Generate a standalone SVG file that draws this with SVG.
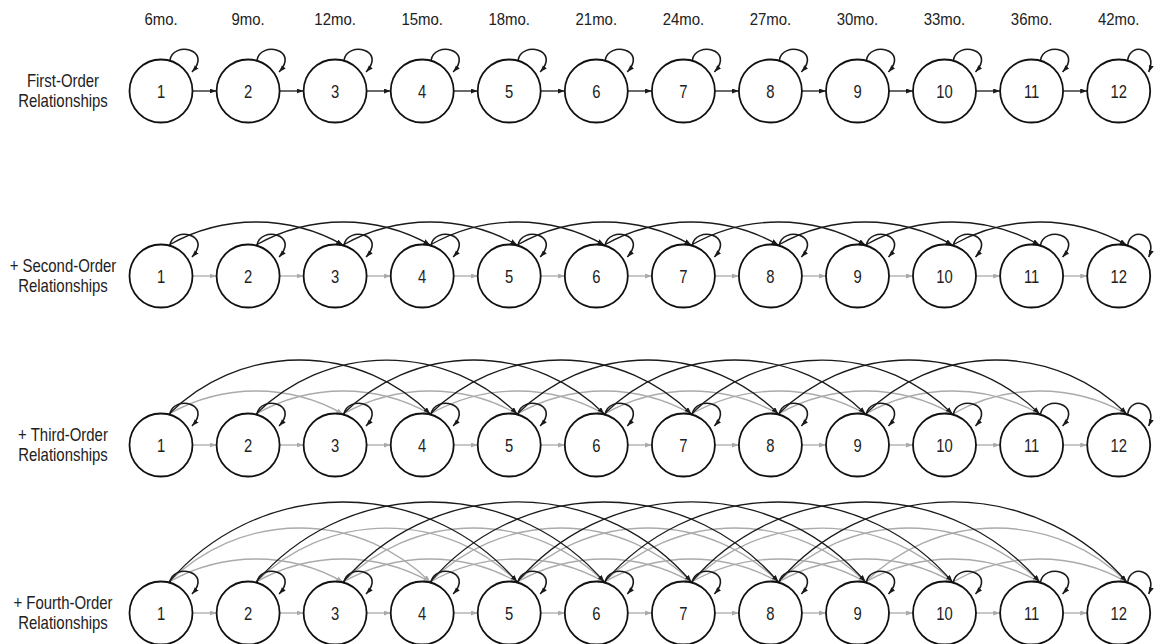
<svg xmlns="http://www.w3.org/2000/svg" width="1155" height="644" viewBox="0 0 1155 644">
<style>
.t{font-family:"Liberation Sans",Arial,sans-serif;font-size:18px;fill:#222;text-anchor:middle}
.m{font-size:17px}
.d{font-size:18.5px}
.n circle{fill:#fff;stroke:#111;stroke-width:1.8}
.k{fill:none;stroke:#1a1a1a;stroke-width:1.3;marker-end:url(#ak)}
.g{fill:none;stroke:#aaa;stroke-width:1.3;marker-end:url(#ag)}
.l{fill:none;stroke:#1a1a1a;stroke-width:1.6;marker-end:url(#ak)}
</style>
<defs>
<marker id="ak" markerUnits="userSpaceOnUse" markerWidth="8" markerHeight="6" refX="7" refY="2.5" orient="auto"><path d="M0,0 L7,2.5 L0,5 z" fill="#1a1a1a"/></marker>
<marker id="ag" markerUnits="userSpaceOnUse" markerWidth="8" markerHeight="6" refX="7" refY="2.5" orient="auto"><path d="M0,0 L7,2.5 L0,5 z" fill="#aaa"/></marker>
</defs>
<rect width="1155" height="644" fill="#fff"/>
<g id="ages">
<text class="t m" transform="translate(161,25) scale(0.88,1)">6mo.</text>
<text class="t m" transform="translate(248.1,25) scale(0.88,1)">9mo.</text>
<text class="t m" transform="translate(335.1,25) scale(0.88,1)">12mo.</text>
<text class="t m" transform="translate(422.2,25) scale(0.88,1)">15mo.</text>
<text class="t m" transform="translate(509.2,25) scale(0.88,1)">18mo.</text>
<text class="t m" transform="translate(596.3,25) scale(0.88,1)">21mo.</text>
<text class="t m" transform="translate(683.4,25) scale(0.88,1)">24mo.</text>
<text class="t m" transform="translate(770.4,25) scale(0.88,1)">27mo.</text>
<text class="t m" transform="translate(857.5,25) scale(0.88,1)">30mo.</text>
<text class="t m" transform="translate(944.5,25) scale(0.88,1)">33mo.</text>
<text class="t m" transform="translate(1031.6,25) scale(0.88,1)">36mo.</text>
<text class="t m" transform="translate(1118.7,25) scale(0.88,1)">42mo.</text>
</g>
<g id="row-labels">
<text class="t" transform="translate(63,87) scale(0.83,1)">First-Order</text>
<text class="t" transform="translate(63,107) scale(0.83,1)">Relationships</text>
<text class="t" transform="translate(63,272) scale(0.83,1)">+ Second-Order</text>
<text class="t" transform="translate(63,292) scale(0.83,1)">Relationships</text>
<text class="t" transform="translate(63,441) scale(0.83,1)">+ Third-Order</text>
<text class="t" transform="translate(63,461) scale(0.83,1)">Relationships</text>
<text class="t" transform="translate(63,609) scale(0.83,1)">+ Fourth-Order</text>
<text class="t" transform="translate(63,629) scale(0.83,1)">Relationships</text>
</g>
<g id="connectors">
<!-- row 1 first-order black -->
<path class="k" d="M192.5,91H216.6"/><path class="k" d="M279.6,91H303.6"/><path class="k" d="M366.6,91H390.7"/><path class="k" d="M453.7,91H477.7"/><path class="k" d="M540.7,91H564.8"/><path class="k" d="M627.8,91H651.9"/><path class="k" d="M714.9,91H738.9"/><path class="k" d="M801.9,91H826"/><path class="k" d="M889,91H913"/><path class="k" d="M976,91H1000.1"/><path class="k" d="M1063.1,91H1087.2"/>
<!-- rows 2-4 first-order gray -->
<path class="g" d="M192.5,276H216.6"/><path class="g" d="M279.6,276H303.6"/><path class="g" d="M366.6,276H390.7"/><path class="g" d="M453.7,276H477.7"/><path class="g" d="M540.7,276H564.8"/><path class="g" d="M627.8,276H651.9"/><path class="g" d="M714.9,276H738.9"/><path class="g" d="M801.9,276H826"/><path class="g" d="M889,276H913"/><path class="g" d="M976,276H1000.1"/><path class="g" d="M1063.1,276H1087.2"/>
<path class="g" d="M192.5,445H216.6"/><path class="g" d="M279.6,445H303.6"/><path class="g" d="M366.6,445H390.7"/><path class="g" d="M453.7,445H477.7"/><path class="g" d="M540.7,445H564.8"/><path class="g" d="M627.8,445H651.9"/><path class="g" d="M714.9,445H738.9"/><path class="g" d="M801.9,445H826"/><path class="g" d="M889,445H913"/><path class="g" d="M976,445H1000.1"/><path class="g" d="M1063.1,445H1087.2"/>
<path class="g" d="M192.5,613H216.6"/><path class="g" d="M279.6,613H303.6"/><path class="g" d="M366.6,613H390.7"/><path class="g" d="M453.7,613H477.7"/><path class="g" d="M540.7,613H564.8"/><path class="g" d="M627.8,613H651.9"/><path class="g" d="M714.9,613H738.9"/><path class="g" d="M801.9,613H826"/><path class="g" d="M889,613H913"/><path class="g" d="M976,613H1000.1"/><path class="g" d="M1063.1,613H1087.2"/>
<!-- row 2 second-order black -->
<path class="k" d="M169,245A176.3,176.3 0 0 1 343.1,245"/><path class="k" d="M256.1,245A176.3,176.3 0 0 1 430.2,245"/><path class="k" d="M343.1,245A176.3,176.3 0 0 1 517.2,245"/><path class="k" d="M430.2,245A176.3,176.3 0 0 1 604.3,245"/><path class="k" d="M517.2,245A176.3,176.3 0 0 1 691.4,245"/><path class="k" d="M604.3,245A176.3,176.3 0 0 1 778.4,245"/><path class="k" d="M691.4,245A176.3,176.3 0 0 1 865.5,245"/><path class="k" d="M778.4,245A176.3,176.3 0 0 1 952.5,245"/><path class="k" d="M865.5,245A176.3,176.3 0 0 1 1039.6,245"/><path class="k" d="M952.5,245A176.3,176.3 0 0 1 1126.7,245"/>
<!-- row 3 second-order gray -->
<path class="g" d="M169,414A176.3,176.3 0 0 1 343.1,414"/><path class="g" d="M256.1,414A176.3,176.3 0 0 1 430.2,414"/><path class="g" d="M343.1,414A176.3,176.3 0 0 1 517.2,414"/><path class="g" d="M430.2,414A176.3,176.3 0 0 1 604.3,414"/><path class="g" d="M517.2,414A176.3,176.3 0 0 1 691.4,414"/><path class="g" d="M604.3,414A176.3,176.3 0 0 1 778.4,414"/><path class="g" d="M691.4,414A176.3,176.3 0 0 1 865.5,414"/><path class="g" d="M778.4,414A176.3,176.3 0 0 1 952.5,414"/><path class="g" d="M865.5,414A176.3,176.3 0 0 1 1039.6,414"/><path class="g" d="M952.5,414A176.3,176.3 0 0 1 1126.7,414"/>
<!-- row 3 third-order black -->
<path class="k" d="M169,414A184.9,184.9 0 0 1 430.2,414"/><path class="k" d="M256.1,414A184.9,184.9 0 0 1 517.2,414"/><path class="k" d="M343.1,414A184.9,184.9 0 0 1 604.3,414"/><path class="k" d="M430.2,414A184.9,184.9 0 0 1 691.4,414"/><path class="k" d="M517.2,414A184.9,184.9 0 0 1 778.4,414"/><path class="k" d="M604.3,414A184.9,184.9 0 0 1 865.5,414"/><path class="k" d="M691.4,414A184.9,184.9 0 0 1 952.5,414"/><path class="k" d="M778.4,414A184.9,184.9 0 0 1 1039.6,414"/><path class="k" d="M865.5,414A184.9,184.9 0 0 1 1126.7,414"/>
<!-- row 4 second-order gray -->
<path class="g" d="M169,582A176.3,176.3 0 0 1 343.1,582"/><path class="g" d="M256.1,582A176.3,176.3 0 0 1 430.2,582"/><path class="g" d="M343.1,582A176.3,176.3 0 0 1 517.2,582"/><path class="g" d="M430.2,582A176.3,176.3 0 0 1 604.3,582"/><path class="g" d="M517.2,582A176.3,176.3 0 0 1 691.4,582"/><path class="g" d="M604.3,582A176.3,176.3 0 0 1 778.4,582"/><path class="g" d="M691.4,582A176.3,176.3 0 0 1 865.5,582"/><path class="g" d="M778.4,582A176.3,176.3 0 0 1 952.5,582"/><path class="g" d="M865.5,582A176.3,176.3 0 0 1 1039.6,582"/><path class="g" d="M952.5,582A176.3,176.3 0 0 1 1126.7,582"/>
<!-- row 4 third-order gray -->
<path class="g" d="M169,582A184.9,184.9 0 0 1 430.2,582"/><path class="g" d="M256.1,582A184.9,184.9 0 0 1 517.2,582"/><path class="g" d="M343.1,582A184.9,184.9 0 0 1 604.3,582"/><path class="g" d="M430.2,582A184.9,184.9 0 0 1 691.4,582"/><path class="g" d="M517.2,582A184.9,184.9 0 0 1 778.4,582"/><path class="g" d="M604.3,582A184.9,184.9 0 0 1 865.5,582"/><path class="g" d="M691.4,582A184.9,184.9 0 0 1 952.5,582"/><path class="g" d="M778.4,582A184.9,184.9 0 0 1 1039.6,582"/><path class="g" d="M865.5,582A184.9,184.9 0 0 1 1126.7,582"/>
<!-- row 4 fourth-order black -->
<path class="k" d="M169,582A229.4,229.4 0 0 1 517.2,582"/><path class="k" d="M256.1,582A229.4,229.4 0 0 1 604.3,582"/><path class="k" d="M343.1,582A229.4,229.4 0 0 1 691.4,582"/><path class="k" d="M430.2,582A229.4,229.4 0 0 1 778.4,582"/><path class="k" d="M517.2,582A229.4,229.4 0 0 1 865.5,582"/><path class="k" d="M604.3,582A229.4,229.4 0 0 1 952.5,582"/><path class="k" d="M691.4,582A229.4,229.4 0 0 1 1039.6,582"/><path class="k" d="M778.4,582A229.4,229.4 0 0 1 1126.7,582"/>
<!-- self loops -->
<path class="l" d="M170,60C173,41 213,49 192,72"/><path class="l" d="M257.1,60C260.1,41 300.1,49 279.1,72"/><path class="l" d="M344.1,60C347.1,41 387.1,49 366.1,72"/><path class="l" d="M431.2,60C434.2,41 474.2,49 453.2,72"/><path class="l" d="M518.2,60C521.2,41 561.2,49 540.2,72"/><path class="l" d="M605.3,60C608.3,41 648.3,49 627.3,72"/><path class="l" d="M692.4,60C695.4,41 735.4,49 714.4,72"/><path class="l" d="M779.4,60C782.4,41 822.4,49 801.4,72"/><path class="l" d="M866.5,60C869.5,41 909.5,49 888.5,72"/><path class="l" d="M953.5,60C956.5,41 996.5,49 975.5,72"/><path class="l" d="M1040.6,60C1043.6,41 1083.6,49 1062.6,72"/><path class="l" d="M1127.7,60C1130.7,41 1158.7,49 1148.7,72"/>
<path class="l" d="M170,245C173,226 213,234 192,257"/><path class="l" d="M257.1,245C260.1,226 300.1,234 279.1,257"/><path class="l" d="M344.1,245C347.1,226 387.1,234 366.1,257"/><path class="l" d="M431.2,245C434.2,226 474.2,234 453.2,257"/><path class="l" d="M518.2,245C521.2,226 561.2,234 540.2,257"/><path class="l" d="M605.3,245C608.3,226 648.3,234 627.3,257"/><path class="l" d="M692.4,245C695.4,226 735.4,234 714.4,257"/><path class="l" d="M779.4,245C782.4,226 822.4,234 801.4,257"/><path class="l" d="M866.5,245C869.5,226 909.5,234 888.5,257"/><path class="l" d="M953.5,245C956.5,226 996.5,234 975.5,257"/><path class="l" d="M1040.6,245C1043.6,226 1083.6,234 1062.6,257"/><path class="l" d="M1127.7,245C1130.7,226 1158.7,234 1148.7,257"/>
<path class="l" d="M170,414C173,395 213,403 192,426"/><path class="l" d="M257.1,414C260.1,395 300.1,403 279.1,426"/><path class="l" d="M344.1,414C347.1,395 387.1,403 366.1,426"/><path class="l" d="M431.2,414C434.2,395 474.2,403 453.2,426"/><path class="l" d="M518.2,414C521.2,395 561.2,403 540.2,426"/><path class="l" d="M605.3,414C608.3,395 648.3,403 627.3,426"/><path class="l" d="M692.4,414C695.4,395 735.4,403 714.4,426"/><path class="l" d="M779.4,414C782.4,395 822.4,403 801.4,426"/><path class="l" d="M866.5,414C869.5,395 909.5,403 888.5,426"/><path class="l" d="M953.5,414C956.5,395 996.5,403 975.5,426"/><path class="l" d="M1040.6,414C1043.6,395 1083.6,403 1062.6,426"/><path class="l" d="M1127.7,414C1130.7,395 1158.7,403 1148.7,426"/>
<path class="l" d="M170,582C173,563 213,571 192,594"/><path class="l" d="M257.1,582C260.1,563 300.1,571 279.1,594"/><path class="l" d="M344.1,582C347.1,563 387.1,571 366.1,594"/><path class="l" d="M431.2,582C434.2,563 474.2,571 453.2,594"/><path class="l" d="M518.2,582C521.2,563 561.2,571 540.2,594"/><path class="l" d="M605.3,582C608.3,563 648.3,571 627.3,594"/><path class="l" d="M692.4,582C695.4,563 735.4,571 714.4,594"/><path class="l" d="M779.4,582C782.4,563 822.4,571 801.4,594"/><path class="l" d="M866.5,582C869.5,563 909.5,571 888.5,594"/><path class="l" d="M953.5,582C956.5,563 996.5,571 975.5,594"/><path class="l" d="M1040.6,582C1043.6,563 1083.6,571 1062.6,594"/><path class="l" d="M1127.7,582C1130.7,563 1158.7,571 1148.7,594"/>
</g>
<g id="r1n1" class="n"><circle cx="161" cy="91" r="31.5"/><text class="t d" transform="translate(161,97.5) scale(0.8,1)">1</text></g>
<g id="r1n2" class="n"><circle cx="248.1" cy="91" r="31.5"/><text class="t d" transform="translate(248.1,97.5) scale(0.8,1)">2</text></g>
<g id="r1n3" class="n"><circle cx="335.1" cy="91" r="31.5"/><text class="t d" transform="translate(335.1,97.5) scale(0.8,1)">3</text></g>
<g id="r1n4" class="n"><circle cx="422.2" cy="91" r="31.5"/><text class="t d" transform="translate(422.2,97.5) scale(0.8,1)">4</text></g>
<g id="r1n5" class="n"><circle cx="509.2" cy="91" r="31.5"/><text class="t d" transform="translate(509.2,97.5) scale(0.8,1)">5</text></g>
<g id="r1n6" class="n"><circle cx="596.3" cy="91" r="31.5"/><text class="t d" transform="translate(596.3,97.5) scale(0.8,1)">6</text></g>
<g id="r1n7" class="n"><circle cx="683.4" cy="91" r="31.5"/><text class="t d" transform="translate(683.4,97.5) scale(0.8,1)">7</text></g>
<g id="r1n8" class="n"><circle cx="770.4" cy="91" r="31.5"/><text class="t d" transform="translate(770.4,97.5) scale(0.8,1)">8</text></g>
<g id="r1n9" class="n"><circle cx="857.5" cy="91" r="31.5"/><text class="t d" transform="translate(857.5,97.5) scale(0.8,1)">9</text></g>
<g id="r1n10" class="n"><circle cx="944.5" cy="91" r="31.5"/><text class="t d" transform="translate(944.5,97.5) scale(0.8,1)">10</text></g>
<g id="r1n11" class="n"><circle cx="1031.6" cy="91" r="31.5"/><text class="t d" transform="translate(1031.6,97.5) scale(0.8,1)">11</text></g>
<g id="r1n12" class="n"><circle cx="1118.7" cy="91" r="31.5"/><text class="t d" transform="translate(1118.7,97.5) scale(0.8,1)">12</text></g>
<g id="r2n1" class="n"><circle cx="161" cy="276" r="31.5"/><text class="t d" transform="translate(161,282.5) scale(0.8,1)">1</text></g>
<g id="r2n2" class="n"><circle cx="248.1" cy="276" r="31.5"/><text class="t d" transform="translate(248.1,282.5) scale(0.8,1)">2</text></g>
<g id="r2n3" class="n"><circle cx="335.1" cy="276" r="31.5"/><text class="t d" transform="translate(335.1,282.5) scale(0.8,1)">3</text></g>
<g id="r2n4" class="n"><circle cx="422.2" cy="276" r="31.5"/><text class="t d" transform="translate(422.2,282.5) scale(0.8,1)">4</text></g>
<g id="r2n5" class="n"><circle cx="509.2" cy="276" r="31.5"/><text class="t d" transform="translate(509.2,282.5) scale(0.8,1)">5</text></g>
<g id="r2n6" class="n"><circle cx="596.3" cy="276" r="31.5"/><text class="t d" transform="translate(596.3,282.5) scale(0.8,1)">6</text></g>
<g id="r2n7" class="n"><circle cx="683.4" cy="276" r="31.5"/><text class="t d" transform="translate(683.4,282.5) scale(0.8,1)">7</text></g>
<g id="r2n8" class="n"><circle cx="770.4" cy="276" r="31.5"/><text class="t d" transform="translate(770.4,282.5) scale(0.8,1)">8</text></g>
<g id="r2n9" class="n"><circle cx="857.5" cy="276" r="31.5"/><text class="t d" transform="translate(857.5,282.5) scale(0.8,1)">9</text></g>
<g id="r2n10" class="n"><circle cx="944.5" cy="276" r="31.5"/><text class="t d" transform="translate(944.5,282.5) scale(0.8,1)">10</text></g>
<g id="r2n11" class="n"><circle cx="1031.6" cy="276" r="31.5"/><text class="t d" transform="translate(1031.6,282.5) scale(0.8,1)">11</text></g>
<g id="r2n12" class="n"><circle cx="1118.7" cy="276" r="31.5"/><text class="t d" transform="translate(1118.7,282.5) scale(0.8,1)">12</text></g>
<g id="r3n1" class="n"><circle cx="161" cy="445" r="31.5"/><text class="t d" transform="translate(161,451.5) scale(0.8,1)">1</text></g>
<g id="r3n2" class="n"><circle cx="248.1" cy="445" r="31.5"/><text class="t d" transform="translate(248.1,451.5) scale(0.8,1)">2</text></g>
<g id="r3n3" class="n"><circle cx="335.1" cy="445" r="31.5"/><text class="t d" transform="translate(335.1,451.5) scale(0.8,1)">3</text></g>
<g id="r3n4" class="n"><circle cx="422.2" cy="445" r="31.5"/><text class="t d" transform="translate(422.2,451.5) scale(0.8,1)">4</text></g>
<g id="r3n5" class="n"><circle cx="509.2" cy="445" r="31.5"/><text class="t d" transform="translate(509.2,451.5) scale(0.8,1)">5</text></g>
<g id="r3n6" class="n"><circle cx="596.3" cy="445" r="31.5"/><text class="t d" transform="translate(596.3,451.5) scale(0.8,1)">6</text></g>
<g id="r3n7" class="n"><circle cx="683.4" cy="445" r="31.5"/><text class="t d" transform="translate(683.4,451.5) scale(0.8,1)">7</text></g>
<g id="r3n8" class="n"><circle cx="770.4" cy="445" r="31.5"/><text class="t d" transform="translate(770.4,451.5) scale(0.8,1)">8</text></g>
<g id="r3n9" class="n"><circle cx="857.5" cy="445" r="31.5"/><text class="t d" transform="translate(857.5,451.5) scale(0.8,1)">9</text></g>
<g id="r3n10" class="n"><circle cx="944.5" cy="445" r="31.5"/><text class="t d" transform="translate(944.5,451.5) scale(0.8,1)">10</text></g>
<g id="r3n11" class="n"><circle cx="1031.6" cy="445" r="31.5"/><text class="t d" transform="translate(1031.6,451.5) scale(0.8,1)">11</text></g>
<g id="r3n12" class="n"><circle cx="1118.7" cy="445" r="31.5"/><text class="t d" transform="translate(1118.7,451.5) scale(0.8,1)">12</text></g>
<g id="r4n1" class="n"><circle cx="161" cy="613" r="31.5"/><text class="t d" transform="translate(161,619.5) scale(0.8,1)">1</text></g>
<g id="r4n2" class="n"><circle cx="248.1" cy="613" r="31.5"/><text class="t d" transform="translate(248.1,619.5) scale(0.8,1)">2</text></g>
<g id="r4n3" class="n"><circle cx="335.1" cy="613" r="31.5"/><text class="t d" transform="translate(335.1,619.5) scale(0.8,1)">3</text></g>
<g id="r4n4" class="n"><circle cx="422.2" cy="613" r="31.5"/><text class="t d" transform="translate(422.2,619.5) scale(0.8,1)">4</text></g>
<g id="r4n5" class="n"><circle cx="509.2" cy="613" r="31.5"/><text class="t d" transform="translate(509.2,619.5) scale(0.8,1)">5</text></g>
<g id="r4n6" class="n"><circle cx="596.3" cy="613" r="31.5"/><text class="t d" transform="translate(596.3,619.5) scale(0.8,1)">6</text></g>
<g id="r4n7" class="n"><circle cx="683.4" cy="613" r="31.5"/><text class="t d" transform="translate(683.4,619.5) scale(0.8,1)">7</text></g>
<g id="r4n8" class="n"><circle cx="770.4" cy="613" r="31.5"/><text class="t d" transform="translate(770.4,619.5) scale(0.8,1)">8</text></g>
<g id="r4n9" class="n"><circle cx="857.5" cy="613" r="31.5"/><text class="t d" transform="translate(857.5,619.5) scale(0.8,1)">9</text></g>
<g id="r4n10" class="n"><circle cx="944.5" cy="613" r="31.5"/><text class="t d" transform="translate(944.5,619.5) scale(0.8,1)">10</text></g>
<g id="r4n11" class="n"><circle cx="1031.6" cy="613" r="31.5"/><text class="t d" transform="translate(1031.6,619.5) scale(0.8,1)">11</text></g>
<g id="r4n12" class="n"><circle cx="1118.7" cy="613" r="31.5"/><text class="t d" transform="translate(1118.7,619.5) scale(0.8,1)">12</text></g>
</svg>
